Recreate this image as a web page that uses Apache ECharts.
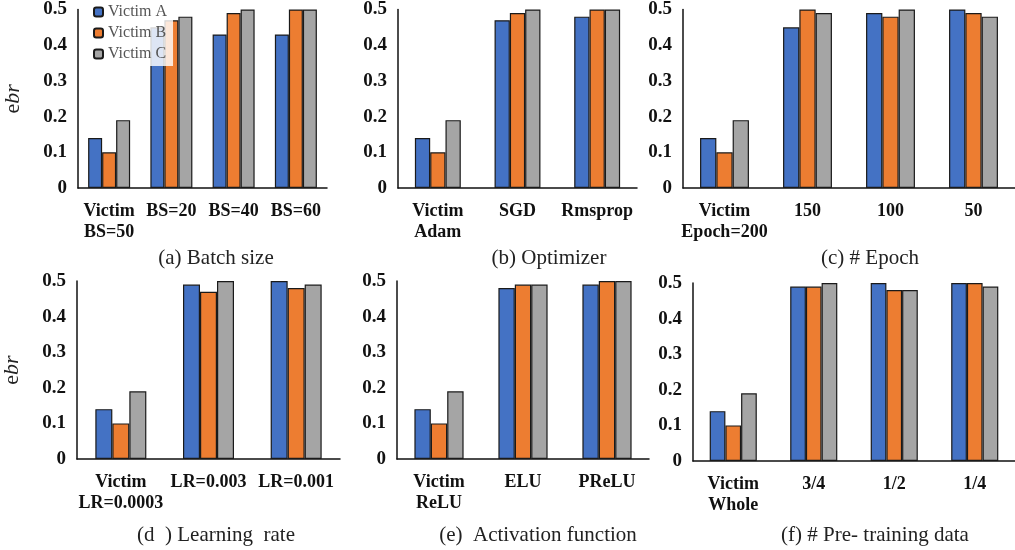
<!DOCTYPE html>
<html>
<head>
<meta charset="utf-8">
<script src="https://cdn.jsdelivr.net/npm/echarts@6/dist/echarts.min.js"></script>
<style>
  html, body { margin: 0; padding: 0; background: #fff; }
  #chart { width: 1015px; height: 550px; }
</style>
</head>
<body>
<div id="chart"></div>
<script>
// Victim models
const seriesNames = ['Victim A', 'Victim B', 'Victim C'];
const seriesColors = ['#4472C4', '#ED7D31', '#A5A5A5'];

// y-axis ticks
const yTicks = [0, 0.1, 0.2, 0.3, 0.4, 0.5];

// (a) Batch size
const catsBatch = ['Victim\nBS=50', 'BS=20', 'BS=40', 'BS=60'];
const batchA = [0.14, 0.45, 0.43, 0.43];
const batchB = [0.10, 0.47, 0.49, 0.50];
const batchC = [0.19, 0.48, 0.50, 0.50];

// (b) Optimizer
const catsOpt = ['Victim\nAdam', 'SGD', 'Rmsprop'];
const optA = [0.14, 0.47, 0.48];
const optB = [0.10, 0.49, 0.50];
const optC = [0.19, 0.50, 0.50];

// (c) # Epoch
const catsEpoch = ['Victim\nEpoch=200', '150', '100', '50'];
const epochA = [0.14, 0.45, 0.49, 0.50];
const epochB = [0.10, 0.50, 0.48, 0.49];
const epochC = [0.19, 0.49, 0.50, 0.48];

// (d) Learning rate
const catsLr = ['Victim\nLR=0.0003', 'LR=0.003', 'LR=0.001'];
const lrA = [0.14, 0.49, 0.50];
const lrB = [0.10, 0.47, 0.48];
const lrC = [0.19, 0.50, 0.49];

// (e) Activation function
const catsAct = ['Victim\nReLU', 'ELU', 'PReLU'];
const actA = [0.14, 0.48, 0.49];
const actB = [0.10, 0.49, 0.50];
const actC = [0.19, 0.49, 0.50];

// (f) # Pre-training data
const catsPre = ['Victim\nWhole', '3/4', '1/2', '1/4'];
const preA = [0.14, 0.49, 0.50, 0.50];
const preB = [0.10, 0.49, 0.48, 0.50];
const preC = [0.19, 0.50, 0.48, 0.49];

const captions = ['(a) Batch size', '(b) Optimizer', '(c) # Epoch',
                  '(d  ) Learning  rate', '(e)  Activation function', '(f) # Pre- training data'];

const SERIF = "'Liberation Serif', 'Times New Roman', serif";

const panels = [
  { cats: catsBatch, vals: [batchA, batchB, batchC], left: 78,  top: 9,   width: 249, height: 179, barW: 14,   yName: true,  cap: [216, 260] },
  { cats: catsOpt,   vals: [optA, optB, optC],       left: 398, top: 9,   width: 239, height: 179, barW: 15.3, yName: false, cap: [549, 260] },
  { cats: catsEpoch, vals: [epochA, epochB, epochC], left: 683, top: 9,   width: 337, height: 179, barW: 16.3, yName: false, cap: [870, 260] },
  { cats: catsLr,    vals: [lrA, lrB, lrC],          left: 77,  top: 281, width: 263, height: 178, barW: 17,   yName: true,  cap: [216, 537] },
  { cats: catsAct,   vals: [actA, actB, actC],       left: 397, top: 281, width: 252, height: 178, barW: 16.4, yName: false, cap: [538, 537] },
  { cats: catsPre,   vals: [preA, preB, preC],       left: 693, top: 283, width: 326, height: 178, barW: 15.7, yName: false, cap: [875, 537] }
];

const grid = [], xAxis = [], yAxis = [], series = [], title = [];

panels.forEach((p, i) => {
  grid.push({ left: p.left, top: p.top, width: p.width, height: p.height, containLabel: false });
  xAxis.push({
    type: 'category', gridIndex: i, data: p.cats,
    axisLine: { lineStyle: { color: '#111', width: 1.5 } },
    axisTick: { show: false },
    axisLabel: {
      interval: 0, margin: 13, color: '#111', fontFamily: SERIF,
      fontWeight: 'bold', fontSize: 18, lineHeight: 21
    }
  });
  yAxis.push({
    type: 'value', gridIndex: i, min: yTicks[0], max: yTicks[yTicks.length - 1], interval: 0.1,
    axisLine: { show: true, lineStyle: { color: '#111', width: 1.5 } },
    axisTick: { show: false },
    splitLine: { show: false },
    axisLabel: {
      margin: 11, color: '#111', fontFamily: SERIF, fontWeight: 'bold', fontSize: 19,
      formatter: v => String(Number(v.toFixed(1)))
    },
    name: p.yName ? '{e|e}{i|br}' : '',
    nameLocation: 'middle', nameRotate: 90, nameGap: 54,
    nameTextStyle: {
      rich: {
        e: { fontFamily: SERIF, fontSize: 22, color: '#222' },
        i: { fontFamily: SERIF, fontSize: 22, fontStyle: 'italic', color: '#222' }
      }
    }
  });
  p.vals.forEach((vals, k) => {
    series.push({
      type: 'bar', name: seriesNames[k], xAxisIndex: i, yAxisIndex: i,
      data: vals, barWidth: p.barW, barGap: '0%',
      itemStyle: { color: seriesColors[k], borderColor: '#1a1a1a', borderWidth: 1.2 },
      emphasis: { disabled: true }
    });
  });
  title.push({
    text: captions[i], left: p.cap[0], top: p.cap[1] - 12, textAlign: 'center',
    textStyle: { fontFamily: SERIF, fontWeight: 'normal', fontSize: 21, color: '#222' },
    padding: 0
  });
});

const chart = echarts.init(document.getElementById('chart'), null, { renderer: 'canvas' });
chart.setOption({
  animation: false,
  backgroundColor: '#fff',
  title,
  legend: {
    data: seriesNames, orient: 'vertical', left: 88, top: 0,
    padding: [4, 6, 4, 5], itemGap: 5, itemWidth: 9, itemHeight: 9,
    backgroundColor: 'rgba(255,255,255,0.82)',
    textStyle: { fontFamily: SERIF, fontSize: 16, color: '#555', lineHeight: 16 },
    selectedMode: false
  },
  grid, xAxis, yAxis, series
});
</script>
</body>
</html>
